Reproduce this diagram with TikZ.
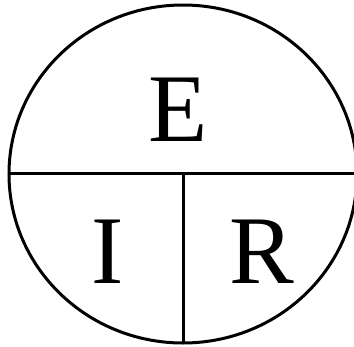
\documentclass[tikz,border=0pt]{standalone}
\usepackage{fontspec}
\setmainfont{Liberation Serif}
\newfontfamily\timesfont{Liberation Serif}
\usetikzlibrary{positioning}
\definecolor{ink}{HTML}{000000}
\tikzset{
  letter/.style={inner sep=0pt,font=\timesfont\fontsize{97}{97}\selectfont,text=ink},
  rim/.style={draw=ink,line width=3pt}
}
\begin{document}
\begin{tikzpicture}[x=1pt,y=-1pt]
\useasboundingbox (0,0) rectangle (354,346);
\clip (0,0) rectangle (354,346);
% outer ring
\draw[rim] (183,174) ellipse (174 and 169);
% dividers
\draw[rim] (9,173) -- (360,173);
\draw[rim] (183,173) -- (183,343);
% letters
\node[letter] (volt) at (178,110) {E};
\node[letter] (amp) at (108,252) {I};
\node[letter] (ohm) at (262,252) {R};
\end{tikzpicture}
\end{document}
